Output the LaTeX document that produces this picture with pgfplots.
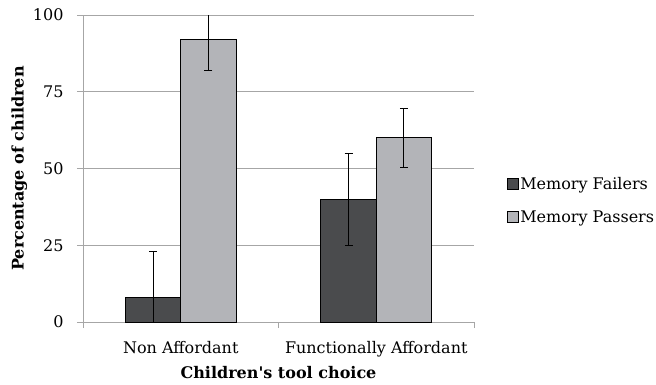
\documentclass[border=0pt]{standalone}
\usepackage{pgfplots}
\pgfplotsset{compat=1.18}
\usepackage{fontspec}
\setmainfont{DejaVu Serif}
\definecolor{darkbar}{HTML}{4A4B4D}
\definecolor{lightbar}{HTML}{B3B4B8}
\definecolor{gridc}{HTML}{A6A6A6}
\pgfplotsset{myerr/.style={error bars/.cd, y dir=both, y explicit,
  error bar style={black, line width=0.9pt},
  error mark options={rotate=90, mark size=4pt, black, line width=0.9pt}}}
\newcommand{\fs}{\fontsize{16}{19}\selectfont}
\begin{document}
\fs
\begin{tikzpicture}[x=1pt,y=1pt]
\path[use as bounding box] (-83pt,-62pt) rectangle (573pt,322pt);
\begin{axis}[
  at={(0,0)}, anchor=south west,
  scale only axis, width=391pt, height=307pt,
  xmin=-0.5, xmax=1.5, ymin=0, ymax=100,
  /pgf/number format/assume math mode=true,
  axis x line*=bottom, axis y line*=left,
  axis line style={gridc, line width=0.8pt},
  xtick={0,1}, xticklabels={Non Affordant, Functionally Affordant},
  minor xtick={-0.5,0.5,1.5},
  ytick={0,25,50,75,100},
  tick align=outside,
  major x tick style={draw=none},
  minor tick length=6pt, major tick length=6pt,
  every tick/.style={gridc, line width=0.8pt},
  ymajorgrids, grid style={gridc, line width=0.8pt},
  tick label style={font=\fs, black},
  xticklabel style={yshift=-8pt},
  yticklabel style={xshift=-8pt},
  xlabel={\textbf{Children\textquotesingle s tool choice}},
  ylabel={\textbf{Percentage of children}},
  label style={font=\fs},
  xlabel style={yshift=2pt},
  ylabel style={yshift=-5pt},
  ybar, bar width=0.283,
  legend style={draw=none, at={(1.075,0.394)}, anchor=west, font=\fs, row sep=15pt, fill=none},
  legend cell align=left,
  legend image code/.code={\draw[#1, draw=black, line width=0.8pt] (0pt,-5pt) rectangle (11pt,6pt);},
]
\addplot[fill=darkbar, draw=black, line width=0.9pt, bar shift=-0.1415, myerr]
  coordinates {(0,8) += (0,15) -= (0,8) (1,40) +- (0,15)};
\addplot[fill=lightbar, draw=black, line width=0.9pt, bar shift=0.1415, myerr]
  coordinates {(0,92) +- (0,10) (1,60) +- (0,9.5)};
\legend{Memory Failers, Memory Passers}
\end{axis}
\end{tikzpicture}
\end{document}
